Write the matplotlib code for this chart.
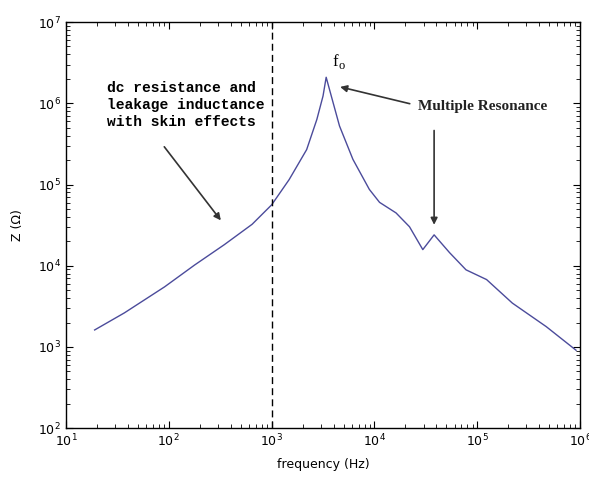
import matplotlib
matplotlib.use("Agg")
from matplotlib import pyplot as plt

# impedance curve
freq = [19, 37, 91, 178, 347, 646, 1000, 1480, 2190, 2750, 3160, 3390,
        3800, 4570, 6170, 8910, 11200, 16200, 21900, 29500, 38000, 53700,
        77600, 123000, 219000, 468000, 912000]
z = [1620, 2630, 5500, 10200, 18200, 32400, 56200, 115000, 269000, 631000,
     1230000, 2090000, 1230000, 525000, 204000, 87100, 60300, 44700, 30200,
     15800, 24000, 14500, 8910, 6760, 3470, 1780, 912]

f_cut = 1000
dc_text = "dc resistance and\nleakage inductance\nwith skin effects"
res_text = "Multiple Resonance"

fig = plt.figure(figsize=(5.89, 4.79), dpi=100)
ax = fig.add_axes([0.112, 0.106, 0.873, 0.848])

ax.loglog(freq, z, color='#4b4b9b', lw=1.0)
ax.axvline(f_cut, color='black', ls='--', lw=1.0, dashes=(5, 3))

ax.set_xlim(10, 1e6)
ax.set_ylim(1e2, 1e7)
ax.tick_params(which='both', direction='in', top=True, right=True, labelsize=9)
ax.tick_params(which='major', length=5)
ax.tick_params(which='minor', length=3)
for s in ax.spines.values():
    s.set_linewidth(1.0)

ax.set_xlabel("frequency (Hz)", fontsize=9, labelpad=6)
ax.set_ylabel("Z (\u03a9)", fontsize=9, labelpad=10)

arrow = dict(arrowstyle='-|>', color='#333333', lw=1.2, mutation_scale=10)

ax.text(25, 1.9e6, dc_text, family='Liberation Mono', weight='bold',
        fontsize=10.5, va='top', linespacing=1.3)
ax.annotate("", xy=(333, 3.4e4), xytext=(87, 3.1e5), arrowprops=arrow)

ax.text(3900, 2.6e6, "f", family='Liberation Serif', fontsize=12, va='bottom')
ax.text(4500, 2.4e6, "o", family='Liberation Serif', fontsize=9, va='bottom')

ax.text(26300, 9.1e5, res_text, family='Liberation Serif', fontsize=11,
        va='center', weight='bold', color='#222222')
ax.annotate("", xy=(4360, 1.62e6), xytext=(23400, 9.7e5), arrowprops=arrow)
ax.annotate("", xy=(38000, 2.95e4), xytext=(38000, 5e5), arrowprops=arrow)

fig.savefig("out.png", dpi=100)
